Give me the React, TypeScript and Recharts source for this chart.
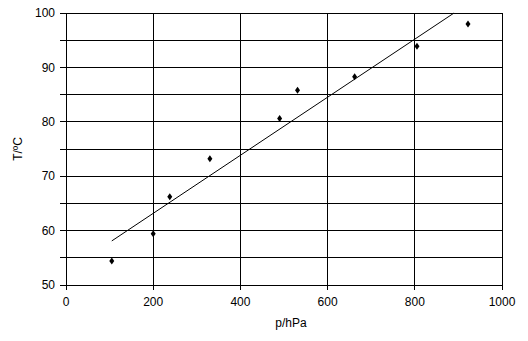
import React from 'react';
import { ScatterChart, Scatter, XAxis, YAxis, CartesianGrid } from 'recharts';

const pressure = [105, 200, 238, 330, 490, 531, 662, 805, 922];
const temperature = [54.4, 59.4, 66.2, 73.2, 80.6, 85.8, 88.3, 93.9, 98.0];

const trendPressure = [105, 890];
const trendTemperature = [58.1, 100];

const xTicks = [0, 200, 400, 600, 800, 1000];
const yTicks = [50, 55, 60, 65, 70, 75, 80, 85, 90, 95, 100];

const points = pressure.map((p, i) => ({ p, t: temperature[i] }));
const trend = trendPressure.map((p, i) => ({ p, t: trendTemperature[i] }));

const font = 'Liberation Sans, Arial, sans-serif';

const Diamond = (props: any) => {
  const { cx, cy } = props;
  if (cx == null || cy == null) return <g />;
  return (
    <path
      d={`M${cx},${cy - 3.5} L${cx + 2.5},${cy} L${cx},${cy + 3.5} L${cx - 2.5},${cy} Z`}
      fill="#000"
      stroke="none"
    />
  );
};

const NoDot = () => <g />;

export default function App() {
  return (
    <div style={{ position: 'absolute', left: 0, top: 0, width: 528, height: 341, background: '#fff' }}>
      <ScatterChart width={528} height={341} margin={{ top: 13, right: 26, bottom: 26, left: 0 }}>
        <CartesianGrid stroke="#000" strokeWidth={1} shapeRendering="crispEdges" />
        <XAxis
          type="number"
          dataKey="p"
          domain={[0, 1000]}
          ticks={xTicks}
          height={30}
          stroke="#000"
          tickSize={5}
          tickMargin={7}
          tick={{ fill: '#000', fontSize: 12, fontFamily: font }}
          shapeRendering="crispEdges"
          label={{
            content: ({ viewBox }: any) => (
              <text x={viewBox.x + viewBox.width / 2 + 7} y={327} textAnchor="middle" fontSize={12} fontFamily={font} fill="#000">
                p/hPa
              </text>
            ),
          }}
        />
        <YAxis
          type="number"
          dataKey="t"
          domain={[50, 100]}
          ticks={yTicks}
          width={66}
          stroke="#000"
          tickSize={6}
          tickMargin={5}
          tickFormatter={(v: number) => (v % 10 === 0 ? String(v) : '')}
          tick={{ fill: '#000', fontSize: 12, fontFamily: font }}
          shapeRendering="crispEdges"
          label={{
            content: ({ viewBox }: any) => {
              const cy = viewBox.y + viewBox.height / 2;
              return (
                <text
                  x={22}
                  y={cy}
                  transform={`rotate(-90 22 ${cy})`}
                  textAnchor="middle"
                  fontSize={12}
                  fontFamily={font}
                  fill="#000"
                >
                  T/ºC
                </text>
              );
            },
          }}
        />
        <Scatter data={trend} line={{ stroke: '#000', strokeWidth: 1 }} shape={NoDot} isAnimationActive={false} legendType="none" />
        <Scatter data={points} shape={Diamond} isAnimationActive={false} />
      </ScatterChart>
    </div>
  );
}
